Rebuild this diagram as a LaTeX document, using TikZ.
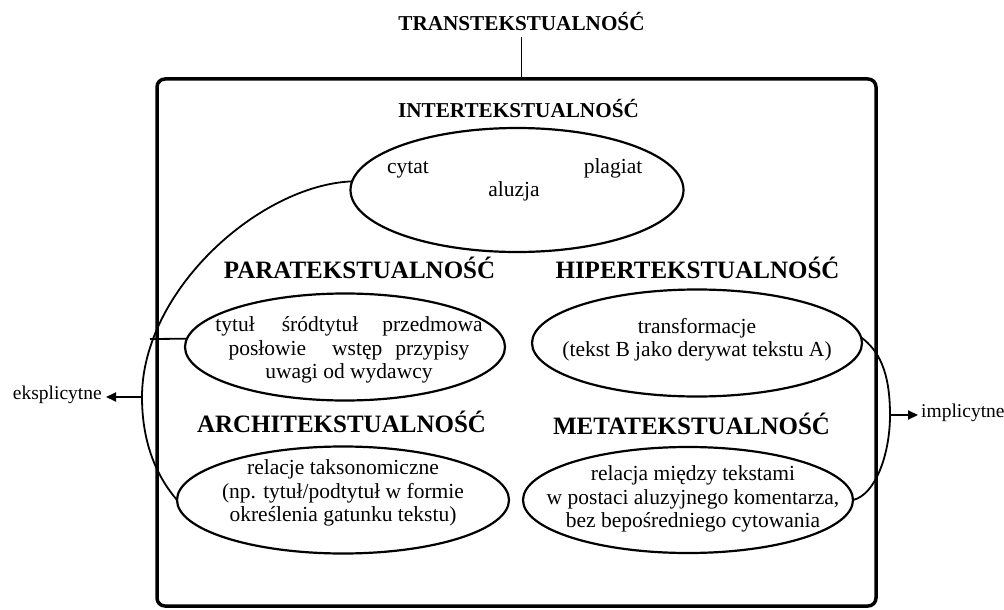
\documentclass[tikz,border=0pt]{standalone}
\usepackage{fontspec}
\setmainfont{Liberation Serif}
\usetikzlibrary{shapes.geometric,arrows.meta}
\tikzset{
  oval/.style={draw, ellipse, line width=2.2pt, inner sep=0pt, outer sep=0pt},
  bodytxt/.style={font=\fontsize{21.5}{23.5}\selectfont, align=center, inner sep=0pt},
  word/.style={font=\fontsize{21.5}{23.5}\selectfont, inner sep=0pt, anchor=mid},
  head/.style={font=\fontsize{25}{26}\selectfont\bfseries, inner sep=0pt, anchor=base},
  tophead/.style={font=\fontsize{21.2}{23}\selectfont\bfseries, inner sep=0pt, anchor=base},
  side/.style={font=\fontsize{19.5}{21}\selectfont, inner sep=0pt, anchor=mid},
  brace/.style={line width=1.8pt},
  arr/.style={line width=1.8pt, -{Triangle[length=10pt,width=9pt]}},
}
\begin{document}
\begin{tikzpicture}[x=1pt,y=-1pt]
\useasboundingbox (0,0) rectangle (1004,610);
% frame
\node[draw, line width=3.5pt, rounded corners=8pt, minimum width=719pt, minimum height=527pt, inner sep=0pt] (box) at (516.5,342.5) {};
\node[tophead] (trans) at (521.5,31) {TRANSTEKSTUALNOŚĆ};
\draw[line width=1.6pt] ([yshift=-6pt]trans.south) -- (trans.south |- box.north);
% headings
\node[tophead] (inter) at (518.5,117) {INTERTEKSTUALNOŚĆ};
\node[head] (para) at (359.5,278) {PARATEKSTUALNOŚĆ};
\node[head] (hiper) at (697.5,278) {HIPERTEKSTUALNOŚĆ};
\node[head] (archi) at (341.5,432) {ARCHITEKSTUALNOŚĆ};
\node[head] (meta) at (691.5,434) {METATEKSTUALNOŚĆ};
% ellipses
\node[oval, minimum width=333pt, minimum height=124pt] (ie) at (517,190) {};
\node[oval, minimum width=320pt, minimum height=107pt] (pe) at (345,347) {};
\node[oval, minimum width=330pt, minimum height=107pt] (he) at (697,343) {};
\node[oval, minimum width=332pt, minimum height=107pt] (ae) at (343,500) {};
\node[oval, minimum width=330pt, minimum height=106pt] (me) at (688,500) {};
% ellipse texts
\node[word] (cytat) at (408,171) {cytat};
\node[word] (plagiat) at (613,171) {plagiat};
\node[word] (aluzja) at (514,194) {aluzja};
\node[bodytxt] (pt) at (349,350) {tytuł\hspace{27pt}śródtytuł\hspace{24pt}przedmowa\\posłowie\hspace{26pt}wstęp\hspace{13pt}przypisy\hspace*{12pt}\\uwagi od wydawcy};
\node[bodytxt] (ht) at (697,339.5) {transformacje\\(tekst B jako derywat tekstu A)};
\node[bodytxt] (at) at (343,493) {relacje taksonomiczne\\(np. tytuł/podtytuł w formie\\określenia gatunku tekstu)};
\node[bodytxt] (mt) at (693,499) {relacja między tekstami\\w postaci aluzyjnego komentarza,\\bez bepośredniego cytowania};
% left bracket
\coordinate (lx) at (142,397);
\coordinate (pl) at (150,339);
\coordinate (lt) at (106,397);
\draw[brace] (ie.177) .. controls (260,185) and (142,290) .. (lx) .. controls (142,445) and (158,478) .. (ae.west);
\draw[brace] (pl) -- (pe.177);
\draw[arr] (lx) -- (lt);
\node[side, anchor=mid east] (eks) at (102,397) {eksplicytne};
% right bracket
\coordinate (rx) at (890,415);
\coordinate (rt) at (918,415);
\draw[brace] (he.2) .. controls (878,350) and (890,370) .. (rx) .. controls (890,455) and (875,495) .. (me.east);
\draw[arr] (rx) -- (rt);
\node[side, anchor=mid west] (imp) at (921,415) {implicytne};
\end{tikzpicture}
\end{document}
